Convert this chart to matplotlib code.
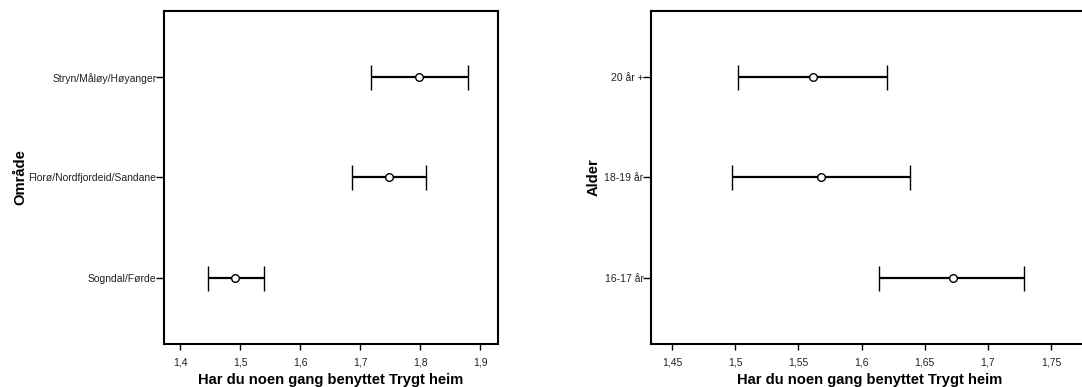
import matplotlib
matplotlib.use("Agg")
import matplotlib.pyplot as plt
from matplotlib.ticker import FuncFormatter

plt.rcParams['font.family'] = ['Liberation Sans', 'DejaVu Sans']

# Left panel: Område
omr_labels = ["Sogndal/Førde", "Florø/Nordfjordeid/Sandane", "Stryn/Måløy/Høyanger"]
omr_mean = [1.492, 1.747, 1.798]
omr_low = [1.446, 1.687, 1.718]
omr_high = [1.5395, 1.8095, 1.8795]
omr_ticks = [1.4, 1.5, 1.6, 1.7, 1.8, 1.9]

# Right panel: Alder
age_labels = ["16-17 år", "18-19 år", "20 år +"]
age_mean = [1.672, 1.568, 1.5614]
age_low = [1.614, 1.4973, 1.5025]
age_high = [1.7288, 1.6385, 1.620]
age_ticks = [1.45, 1.5, 1.55, 1.6, 1.65, 1.7, 1.75]

xlabel = "Har du noen gang benyttet Trygt heim"

fig = plt.figure(figsize=(10.82, 3.87), dpi=100)
ax1 = fig.add_axes([0.1516, 0.1111, 0.3087, 0.8605])
ax2 = fig.add_axes([0.6017, 0.1111, 0.4048, 0.8605])

def fmt(v, pos):
    s = ("%.2f" % v).rstrip("0").rstrip(".")
    return s.replace(".", ",")

def draw(ax, labels, mean, low, high, ticks, xlim, ylab, ypad):
    y = list(range(len(labels)))
    xerr = [[m - l for m, l in zip(mean, low)], [h - m for m, h in zip(mean, high)]]
    ax.errorbar(mean, y, xerr=xerr, fmt='o', color='black', mfc='white', mec='black',
                markersize=5.5, mew=1.0, elinewidth=1.6, capsize=9, capthick=2)
    ax.set_ylim(-0.663, len(labels) - 1 + 0.663)
    ax.set_xlim(*xlim)
    ax.set_xticks(ticks)
    ax.xaxis.set_major_formatter(FuncFormatter(fmt))
    ax.set_yticks(y)
    ax.set_yticklabels(labels, fontsize=7.5, color='#222222')
    ax.tick_params(axis='x', labelsize=7.5, length=4.5, width=1, pad=5, colors='black', labelcolor='#222222')
    ax.tick_params(axis='y', length=5.5, width=1, pad=0)
    for s in ax.spines.values():
        s.set_linewidth(1.5)
    ax.set_xlabel(xlabel, fontsize=10.6, fontweight='bold', labelpad=4.5)
    ax.set_ylabel(ylab, fontsize=10.6, fontweight='bold', labelpad=ypad)

draw(ax1, omr_labels, omr_mean, omr_low, omr_high, omr_ticks, (1.373, 1.9295), "Område", 0.5)
draw(ax2, age_labels, age_mean, age_low, age_high, age_ticks, (1.4334, 1.78), "Alder", 2.5)

fig.savefig("out.png", dpi=100)
